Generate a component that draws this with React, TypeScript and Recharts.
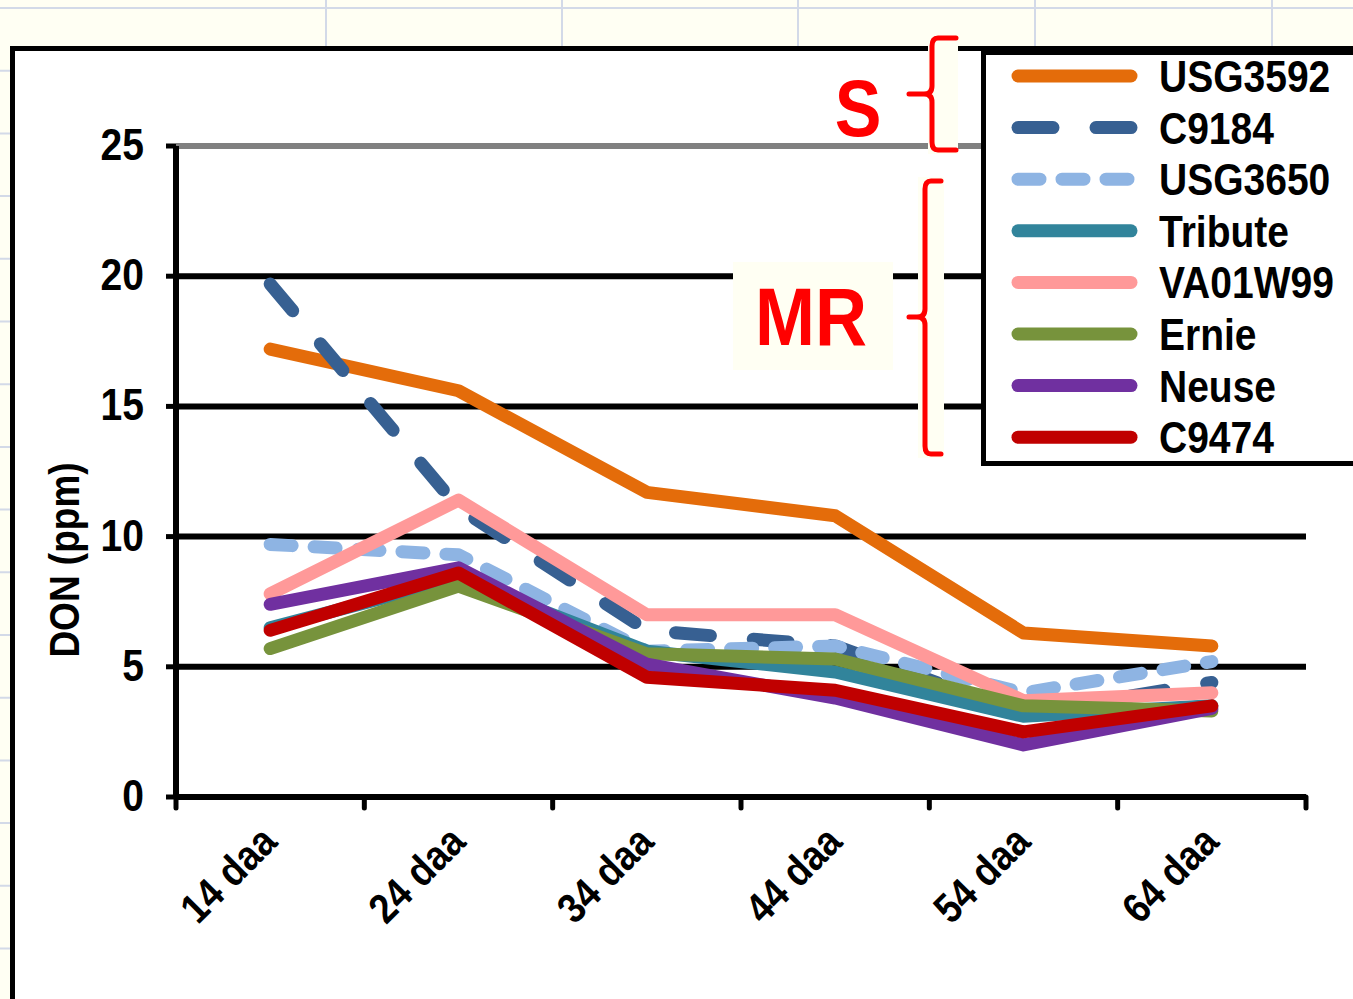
import React from 'react';
import {
  LineChart,
  Line,
  XAxis,
  YAxis,
  CartesianGrid,
  ReferenceLine,
  Legend,
} from 'recharts';

// DON by days after anthesis
const days = ['14 daa', '24 daa', '34 daa', '44 daa', '54 daa', '64 daa'];
const yTicks = [0, 5, 10, 15, 20, 25];

const usg3592 = [17.2, 15.6, 11.7, 10.8, 6.3, 5.8];
const c9184 = [19.7, 11.1, 6.4, 5.8, 3.2, 4.4];
const usg3650 = [9.7, 9.3, 5.6, 5.8, 4.0, 5.2];
const tribute = [6.5, 8.4, 5.6, 4.8, 3.1, 3.5];
const va01w99 = [7.8, 11.4, 7.0, 7.0, 3.7, 4.0];
const ernie = [5.7, 8.1, 5.5, 5.3, 3.5, 3.3];
const neuse = [7.4, 8.8, 5.1, 3.8, 2.0, 3.4];
const c9474 = [6.4, 8.6, 4.6, 4.1, 2.5, 3.5];

const series = [
  { key: 'USG3592', color: '#E46C0A', values: usg3592 },
  { key: 'C9184', color: '#376092', values: c9184, dash: '35 43' },
  { key: 'USG3650', color: '#8EB4E3', values: usg3650, dash: '22 22' },
  { key: 'Tribute', color: '#31849B', values: tribute },
  { key: 'VA01W99', color: '#FF9999', values: va01w99 },
  { key: 'Ernie', color: '#77933C', values: ernie },
  { key: 'Neuse', color: '#7030A0', values: neuse },
  { key: 'C9474', color: '#C00000', values: c9474 },
];

// categories sit between the tick marks (Excel style)
const chartData = days.map((day, i) => {
  const row: Record<string, number | string> = { x: i + 0.5, day };
  series.forEach((s) => {
    row[s.key] = s.values[i];
  });
  return row;
});
const xTicks = Array.from({ length: days.length * 2 + 1 }, (_, i) => i / 2);

const FONT = '"Liberation Sans", Arial, sans-serif';
const CREAM = '#FFFFF3';
const GRIDCELL = '#D3DAE8';
const STRETCH = 1.13; // the original text is a bit narrow / tall

// bold text, stretched vertically around its anchor point
function Tall(props: {
  x: number;
  y: number;
  size: number;
  anchor?: 'start' | 'middle' | 'end';
  rotate?: number;
  fill?: string;
  children: React.ReactNode;
}) {
  const { x, y, size, anchor = 'start', rotate = 0, fill = '#000', children } = props;
  return (
    <text
      x={0}
      y={0}
      transform={`translate(${x} ${y}) rotate(${rotate}) scale(1 ${STRETCH})`}
      textAnchor={anchor}
      fontFamily={FONT}
      fontWeight="bold"
      fontSize={size}
      fill={fill}
    >
      {children}
    </text>
  );
}

function XTick(props: any) {
  const { x, y, payload } = props;
  const v = payload.value as number;
  if (Number.isInteger(v)) {
    return (
      <line x1={x} y1={y} x2={x} y2={y + 11} stroke="#000" strokeWidth={5} strokeLinecap="round" />
    );
  }
  return (
    <Tall x={x + 9} y={y + 47} size={37} anchor="end" rotate={-45}>
      {days[Math.floor(v)]}
    </Tall>
  );
}

function YTick(props: any) {
  const { x, y, payload } = props;
  return (
    <Tall x={x} y={y + 14} size={39} anchor="end">
      {payload.value}
    </Tall>
  );
}

function YLabel() {
  return (
    <Tall x={79} y={560} size={37} anchor="middle" rotate={-90}>
      DON (ppm)
    </Tall>
  );
}

function LegendBox() {
  return (
    <svg width={373} height={416} style={{ display: 'block' }}>
      <rect x={2.5} y={2.5} width={420} height={411} fill="#fff" stroke="#000" strokeWidth={5} />
      {series.map((s, i) => {
        const cy = 26 + i * 51.6;
        return (
          <g key={s.key}>
            <line
              x1={37}
              x2={150}
              y1={cy}
              y2={cy}
              stroke={s.color}
              strokeWidth={13}
              strokeLinecap="round"
              strokeDasharray={s.dash}
            />
            <Tall x={178} y={cy + 16} size={39}>
              {s.key}
            </Tall>
          </g>
        );
      })}
    </svg>
  );
}

function SheetBackground() {
  const rows = Array.from({ length: 16 }, (_, i) => 8 + i * 62.7);
  const cols = [326, 562, 798, 1035, 1272];
  return (
    <svg width={1353} height={999} style={{ position: 'absolute', left: 0, top: 0 }}>
      <rect width={1353} height={999} fill={CREAM} />
      {rows.map((y) => (
        <line key={'r' + y} x1={0} x2={1353} y1={y} y2={y} stroke={GRIDCELL} strokeWidth={2} />
      ))}
      {cols.map((x) => (
        <line key={'c' + x} x1={x} x2={x} y1={0} y2={999} stroke={GRIDCELL} strokeWidth={2} />
      ))}
    </svg>
  );
}

function Annotations() {
  return (
    <svg
      width={1353}
      height={999}
      style={{ position: 'absolute', left: 0, top: 0, pointerEvents: 'none' }}
    >
      <rect x={733} y={262} width={160} height={108} fill={CREAM} />
      <rect x={928} y={34} width={30} height={120} fill={CREAM} />
      <rect x={918} y={177} width={26} height={281} fill={CREAM} />
      <Tall x={858} y={136} size={70} anchor="middle" fill="#FF0000">
        S
      </Tall>
      <Tall x={811} y={345} size={72} anchor="middle" fill="#FF0000">
        MR
      </Tall>
      <path
        d="M 956 38 L 938 38 Q 932 38 932 46 L 932 86 Q 932 94 924 94 L 909 94 M 924 94 Q 932 94 932 102 L 932 142 Q 932 150 938 150 L 956 150"
        fill="none"
        stroke="#FF0000"
        strokeWidth={5}
        strokeLinecap="round"
      />
      <path
        d="M 941 181 L 931 181 Q 925 181 925 189 L 925 309 Q 925 317 917 317 L 909 317 M 917 317 Q 925 317 925 325 L 925 446 Q 925 454 931 454 L 941 454"
        fill="none"
        stroke="#FF0000"
        strokeWidth={5}
        strokeLinecap="round"
      />
    </svg>
  );
}

export default function App() {
  return (
    <div
      style={{
        position: 'absolute',
        left: 0,
        top: 0,
        width: 1353,
        height: 999,
        overflow: 'hidden',
        fontFamily: FONT,
      }}
    >
      <SheetBackground />
      {/* chart area */}
      <div
        style={{
          position: 'absolute',
          left: 10,
          top: 46,
          width: 1400,
          height: 948,
          background: '#fff',
          border: '5px solid #000',
        }}
      />
      <div style={{ position: 'absolute', left: 0, top: 0 }}>
        <LineChart
          width={1353}
          height={999}
          data={chartData}
          margin={{ top: 146, right: 47, bottom: 142, left: 65 }}
        >
          <CartesianGrid horizontal vertical={false} stroke="#000" strokeWidth={6} />
          <ReferenceLine y={25} stroke="#808080" strokeWidth={6} />
          <XAxis
            dataKey="x"
            type="number"
            domain={[0, 6]}
            ticks={xTicks}
            interval={0}
            height={60}
            tickSize={0}
            tickMargin={0}
            tickLine={false}
            axisLine={{ stroke: '#000', strokeWidth: 6 }}
            tick={<XTick />}
          />
          <YAxis
            domain={[0, 25]}
            ticks={yTicks}
            interval={0}
            width={111}
            tickSize={10}
            tickMargin={22}
            axisLine={{ stroke: '#000', strokeWidth: 6 }}
            tickLine={{ stroke: '#000', strokeWidth: 5 }}
            tick={<YTick />}
            label={<YLabel />}
          />
          <YAxis
            yAxisId="right"
            orientation="right"
            domain={[0, 25]}
            width={0}
            tick={false}
            tickLine={false}
            axisLine={{ stroke: '#808080', strokeWidth: 5 }}
          />
          {series.map((s) => (
            <Line
              key={s.key}
              type="linear"
              dataKey={s.key}
              stroke={s.color}
              strokeWidth={13}
              strokeDasharray={s.dash}
              strokeLinecap="round"
              strokeLinejoin="round"
              dot={false}
              activeDot={false}
              isAnimationActive={false}
            />
          ))}
          <Legend
            layout="vertical"
            align="center"
            verticalAlign="middle"
            wrapperStyle={{ position: 'absolute', left: 981, top: 50, width: 373, height: 416 }}
            content={() => <LegendBox />}
          />
        </LineChart>
      </div>
      <Annotations />
    </div>
  );
}
